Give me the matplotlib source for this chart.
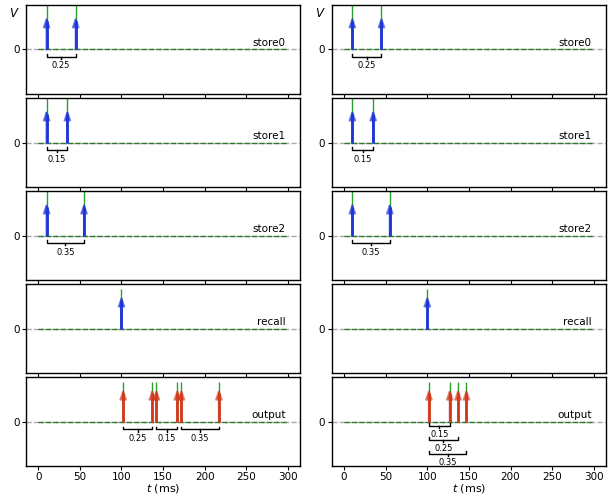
import matplotlib
matplotlib.use('Agg')
import numpy as np
import matplotlib.pyplot as plt

plt.rcParams['font.size'] = 7.5
plt.rcParams['axes.linewidth'] = 1.0

# Spike times (ms)
t_end = 300
store0_times = [10, 45]
store1_times = [10, 35]
store2_times = [10, 55]
store_labels = ['0.25', '0.15', '0.35']
recall_times = [100]

# output of left network: three recalled pairs
out_left_times = [102, 137, 142, 167, 172, 217]
out_left_brackets = [(102, 137), (142, 167), (172, 217)]
out_left_labels = ['0.25', '0.15', '0.35']

# output of right network: all relative to the first spike
out_right_times = [102, 127, 137, 147]
out_right_brackets = [(102, 127), (102, 137), (102, 147)]
out_right_labels = ['0.15', '0.25', '0.35']
out_right_levels = [-0.09, -0.40, -0.72]

row_names = ['store0', 'store1', 'store2', 'recall', 'output']

BLUE = '#1f35d6'
RED = '#d23a1e'
GREEN = '#2ca02c'


def draw_trace(ax, spikes, spike_height):
    # membrane trace: flat at 0 with narrow spikes
    ax.axhline(0, color='#aaaaaa', ls='--', lw=1, zorder=0)
    ax.plot([0, t_end], [0, 0], color='#2a7a2a', ls='--', lw=1, zorder=1)
    ax.vlines(spikes, 0, spike_height, color=GREEN, lw=1, zorder=1)


def draw_arrows(ax, spikes, color, height=0.74):
    ax.vlines(spikes, 0, height - 0.1, color=color, lw=2, zorder=2)
    for t in spikes:
        ax.annotate('', xy=(t, height), xytext=(t, 0),
                    arrowprops=dict(arrowstyle='-|>,head_width=0.25,head_length=0.7',
                                    color=color, lw=1.5, alpha=0.6,
                                    mutation_scale=8, shrinkA=0, shrinkB=0),
                    zorder=3)


def draw_bracket(ax, t1, t2, label, y=-0.17):
    mid = (t1 + t2) / 2
    ax.plot([t1, t1, t2, t2], [y + 0.06, y, y, y + 0.06], color='k', lw=1)
    ax.plot([mid, mid], [y, y - 0.05], color='k', lw=1)
    ax.text(mid, y - 0.2, label, ha='center', va='center', fontsize=6)


fig, axes = plt.subplots(5, 2, sharex=True, figsize=(6.13, 4.96), dpi=100)
fig.subplots_adjust(left=0.042, right=0.989, top=0.99, bottom=0.06,
                    hspace=0.045, wspace=0.113)

store_times = [store0_times, store1_times, store2_times]

for col in range(2):
    col_axes = axes[:, col]
    for i in range(3):
        ax = col_axes[i]
        draw_trace(ax, store_times[i], 1.5)
        draw_arrows(ax, store_times[i], BLUE)
        draw_bracket(ax, store_times[i][0], store_times[i][1], store_labels[i])

    ax = col_axes[3]
    draw_trace(ax, recall_times, 0.9)
    draw_arrows(ax, recall_times, BLUE)

    ax = col_axes[4]
    if col == 0:
        draw_trace(ax, out_left_times, 0.9)
        draw_arrows(ax, out_left_times, RED)
        for (t1, t2), lab in zip(out_left_brackets, out_left_labels):
            draw_bracket(ax, t1, t2, lab)
    else:
        draw_trace(ax, out_right_times, 0.9)
        draw_arrows(ax, out_right_times, RED)
        for (t1, t2), lab, lvl in zip(out_right_brackets, out_right_labels, out_right_levels):
            draw_bracket(ax, t1, t2, lab, y=lvl)

    for i, ax in enumerate(col_axes):
        ax.set_ylim(-1, 1)
        ax.set_yticks([0])
        ax.tick_params(length=3, pad=1.5)
        ax.text(0.946, 0.04, row_names[i], transform=ax.get_yaxis_transform(),
                ha='right', va='bottom', fontsize=7.5)

    col_axes[0].set_ylabel('$V$', rotation=0, fontsize=8.5, va='center')
    col_axes[0].yaxis.set_label_coords(-0.04, 0.9)
    col_axes[4].set_xlabel('$t$ (ms)', fontsize=8, labelpad=-0.5)

axes[0, 0].set_xticks(np.arange(0, 301, 50))
axes[0, 0].set_xlim(-15, 315)

fig.savefig('out.png', dpi=100)
